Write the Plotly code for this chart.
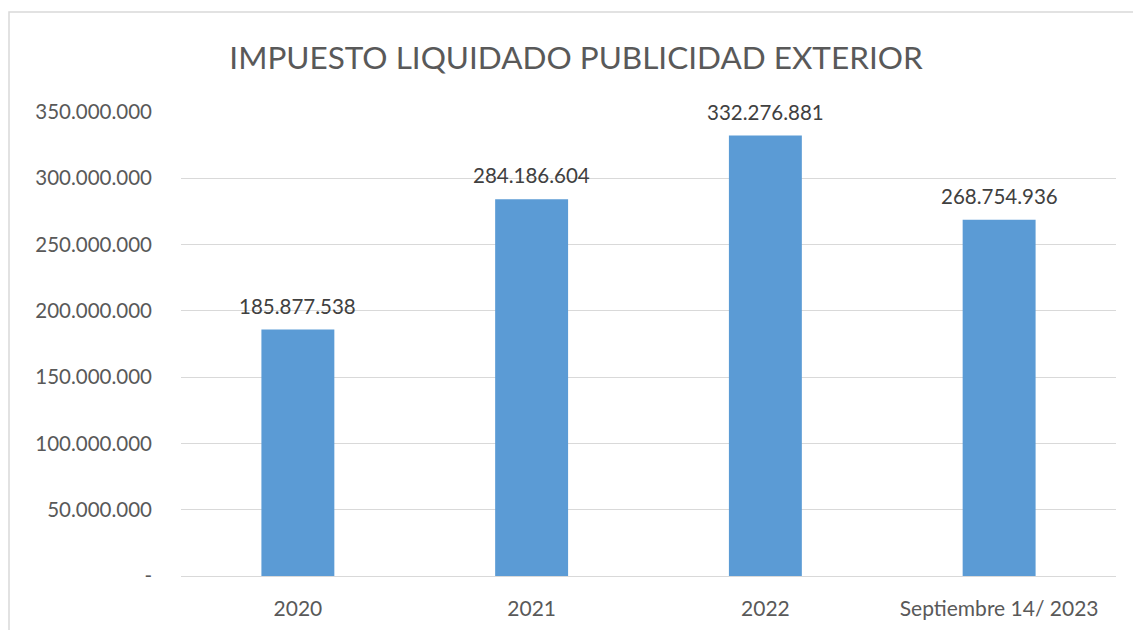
import plotly.graph_objects as go

# Impuesto liquidado por año
categorias = ["2020", "2021", "2022", "Septiembre 14/ 2023"]
valores = [185877538, 284186604, 332276881, 268754936]

# Eje Y
ticks_y = [0, 50000000, 100000000, 150000000, 200000000, 250000000, 300000000, 350000000]
ticks_y_texto = ["-", "50.000.000", "100.000.000", "150.000.000", "200.000.000",
                 "250.000.000", "300.000.000", "350.000.000"]

FUENTE = "Lato"
GRIS = "#595959"
W, H = 1133, 630
L, R, T, B = 181, 17, 112, 54

fig = go.Figure()
fig.add_trace(go.Bar(
    x=categorias,
    y=valores,
    marker=dict(color="#5b9bd5", line=dict(width=0)),
    hoverinfo="x+y",
))

# Etiquetas de valor sobre cada barra (posición por índice de categoría)
for i, v in enumerate(valores):
    fig.add_annotation(
        x=i, y=v, text=f"{v:,}".replace(",", "."),
        showarrow=False, yanchor="bottom", yshift=10,
        font=dict(family=FUENTE, size=20.5, color="#404040"),
    )

# Marco del gráfico
pw, ph = W - L - R, H - T - B
fig.add_shape(
    type="rect", xref="paper", yref="paper",
    x0=(9 - L) / pw, x1=(W + 20 - L) / pw,
    y0=-(B + 20) / ph, y1=(H - B - 12) / ph,
    line=dict(color="#d9d9d9", width=1.5), fillcolor="rgba(0,0,0,0)", layer="below",
)

fig.update_layout(
    width=W, height=H,
    margin=dict(l=L, r=R, t=T, b=B, autoexpand=False),
    paper_bgcolor="white", plot_bgcolor="white",
    bargap=0.688,
    separators=",.",
    showlegend=False,
    title=dict(
        text="IMPUESTO LIQUIDADO PUBLICIDAD EXTERIOR",
        x=576 / W, xanchor="center", xref="container",
        y=1 - 58 / H, yanchor="middle", yref="container",
        font=dict(family=FUENTE, size=31.5, color=GRIS),
    ),
    font=dict(family=FUENTE, color=GRIS),
)
fig.update_yaxes(
    range=[0, 350000000], automargin=False,
    tickvals=ticks_y, ticktext=ticks_y_texto,
    showgrid=True, gridcolor="#d9d9d9", gridwidth=1.3,
    zeroline=False, showline=False, ticks="",
    ticklabelstandoff=28,
    tickfont=dict(family=FUENTE, size=20.5, color=GRIS),
)
fig.update_xaxes(
    type="category", range=[-0.5, len(categorias) - 0.5], automargin=False,
    showline=True, linecolor="#d9d9d9", linewidth=1.3,
    ticks="", ticklabelstandoff=14,
    tickfont=dict(family=FUENTE, size=21, color=GRIS),
)

fig.write_html("out.html")
